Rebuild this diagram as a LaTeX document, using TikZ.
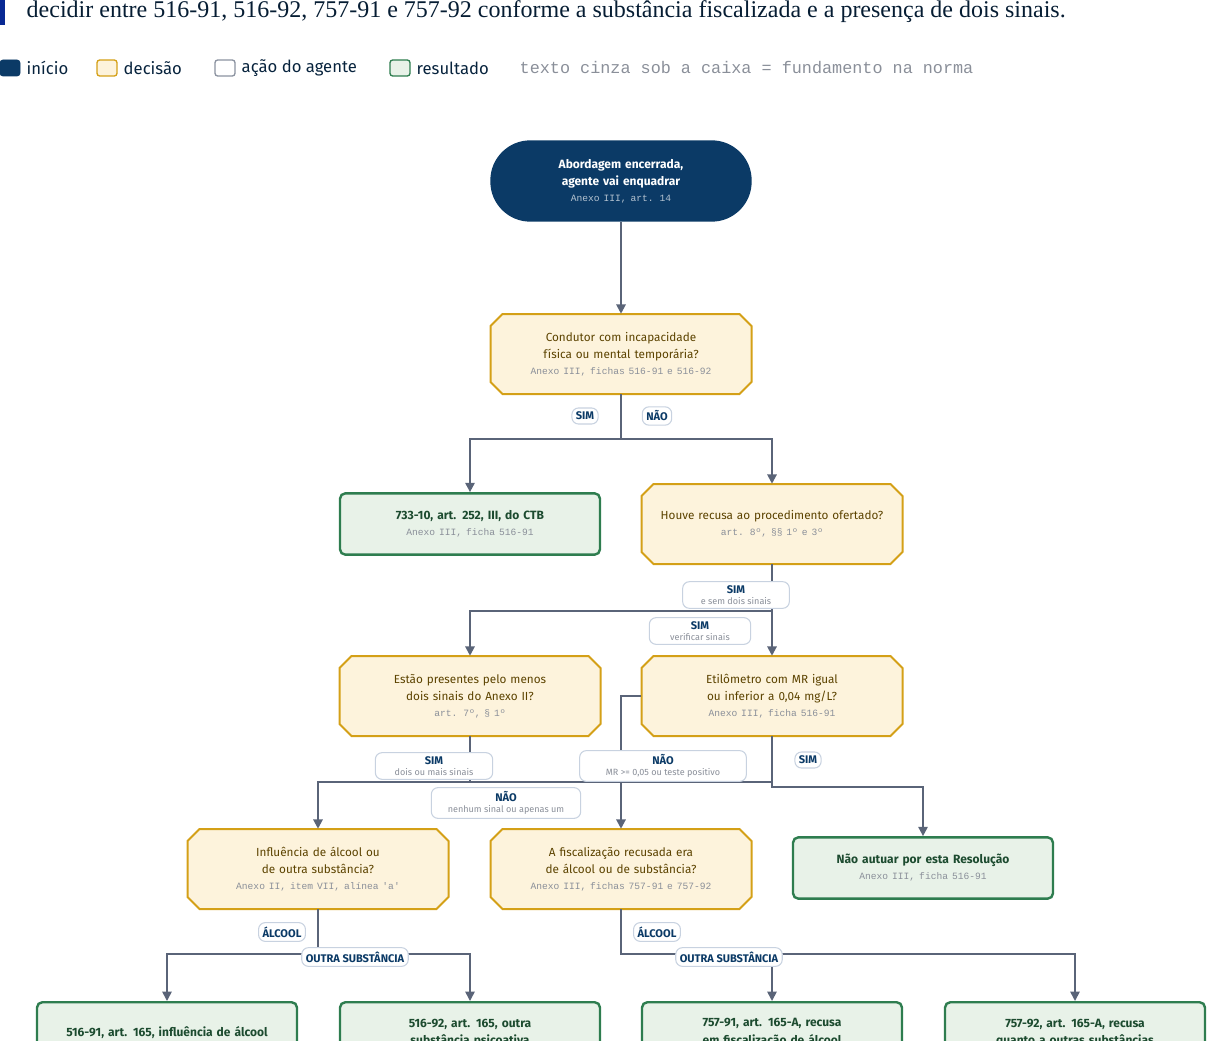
\documentclass[tikz,border=0pt]{standalone}
\usepackage{fontspec}
\setmainfont{Fira Sans}
\newfontfamily\monof{Liberation Mono}
\newfontfamily\serf{Liberation Serif}
\usetikzlibrary{arrows.meta}
\definecolor{navy}{HTML}{0B3A66}
\definecolor{decf}{HTML}{FDF3DC}
\definecolor{decd}{HTML}{D4A017}
\definecolor{resf}{HTML}{E8F2E8}
\definecolor{resd}{HTML}{2E7D4F}
\definecolor{edge}{HTML}{5A6478}
\definecolor{lbld}{HTML}{C8D2E0}
\definecolor{gtxt}{HTML}{8A8F99}
\definecolor{dtxt}{HTML}{5C4300}
\hyphenpenalty=10000
\exhyphenpenalty=10000
\begin{document}
\begin{tikzpicture}[x=0.75pt,y=-0.75pt,
 dec/.style={rectangle,minimum width=195.75pt,minimum height=60pt,align=center,text width=172pt,font=\fontsize{8.8}{13}\selectfont,text=dtxt,inner sep=0pt},
 octo/.style={draw=decd,fill=decf,line width=1.5pt},
 res/.style={rectangle,rounded corners=4pt,draw=resd,fill=resf,line width=1.8pt,minimum width=195pt,minimum height=46pt,align=center,text width=175pt,font=\fontsize{9}{13}\selectfont\bfseries,text=resd!60!black},
 lbl/.style={rectangle,rounded corners=5pt,draw=lbld,fill=white,line width=0.8pt,align=center,font=\fontsize{8.3}{9}\selectfont\bfseries,text=navy,inner xsep=3pt,inner ysep=3pt},
 e/.style={draw=edge,line width=1.5pt},
 a/.style={e,-{Triangle[length=7pt,width=7pt]}},
]
\useasboundingbox (0,0) rectangle (1216,1041);
\newcommand{\nrm}[1]{\\[-1pt]{\monof\fontsize{7.2}{10}\selectfont\color{gtxt}#1}}
\newcommand{\sbt}[1]{\\[-1pt]{\fontsize{6.8}{8}\selectfont\mdseries\color{gtxt}#1}}
\newcommand{\octbox}[2]{\path[octo] (#1-130.5,#2-40)++(12,0) -- (#1+118.5,#2-40) -- (#1+130.5,#2-28) -- (#1+130.5,#2+28) -- (#1+118.5,#2+40) -- (#1-118.5,#2+40) -- (#1-130.5,#2+28) -- (#1-130.5,#2-28) -- cycle;}
% title + legend
\fill[navy!70!blue] (0,0) rectangle (5,25);
\node[anchor=west,font=\serf\fontsize{18}{20}\selectfont,text=navy!50!black] (title) at (22,12) {decidir entre 516-91, 516-92, 757-91 e 757-92 conforme a substância fiscalizada e a presença de dois sinais.};
\draw[fill=navy,draw=navy,rounded corners=2pt] (0,60) rectangle (20,76);
\node[anchor=west,font=\fontsize{12.5}{14}\selectfont,text=navy!60!black] (l1) at (22,68) {início};
\draw[fill=decf,draw=decd,line width=1pt,rounded corners=2pt] (97,60) rectangle (117,76);
\node[anchor=west,font=\fontsize{12.5}{14}\selectfont,text=navy!60!black] (l2) at (119,68) {decisão};
\draw[fill=white,draw=edge!70,line width=1pt,rounded corners=2pt] (215,60) rectangle (235,76);
\node[anchor=west,font=\fontsize{12.5}{14}\selectfont,text=navy!60!black] (l3) at (237,68) {ação do agente};
\draw[fill=resf,draw=resd,line width=1pt,rounded corners=2pt] (390,60) rectangle (410,76);
\node[anchor=west,font=\fontsize{12.5}{14}\selectfont,text=navy!60!black] (l4) at (412,68) {resultado};
\node[anchor=west,font=\monof\fontsize{12.6}{14}\selectfont,text=gtxt] (l5) at (515,68) {texto cinza sob a caixa = fundamento na norma};
% nodes
\node[rectangle,rounded corners=30pt,fill=navy,minimum width=196pt,minimum height=61pt,align=center,text width=180pt,font=\fontsize{9}{13}\selectfont\bfseries,text=white] (s) at (621,181) {Abordagem encerrada, agente vai enquadrar\\[-1pt]{\monof\mdseries\fontsize{7.2}{10}\selectfont\color{white!70!navy}Anexo III, art. 14}};
\octbox{621}{354}
\node[dec] (d1) at (621,354) {Condutor com incapacidade física ou mental temporária?\nrm{Anexo III, fichas 516-91 e 516-92}};
\node[res] (r1) at (470,524) {733-10, art. 252, III, do CTB\nrm{\mdseries Anexo III, ficha 516-91}};
\octbox{772}{524}
\node[dec] (d2) at (772,524) {Houve recusa ao procedimento ofertado?\nrm{art. 8º, §§ 1º e 3º}};
\octbox{470}{696}
\node[dec] (d3) at (470,696) {Estão presentes pelo menos dois sinais do Anexo II?\nrm{art. 7º, § 1º}};
\octbox{772}{696}
\node[dec] (d4) at (772,696) {Etilômetro com MR igual ou inferior a 0,04 mg/L?\nrm{Anexo III, ficha 516-91}};
\octbox{318}{869}
\node[dec] (d5) at (318,869) {Influência de álcool ou de outra substância?\nrm{Anexo II, item VII, alínea 'a'}};
\octbox{621}{869}
\node[dec] (d6) at (621,869) {A fiscalização recusada era de álcool ou de substância?\nrm{Anexo III, fichas 757-91 e 757-92}};
\node[res] (r2) at (923,868) {Não autuar por esta Resolução\nrm{\mdseries Anexo III, ficha 516-91}};
\node[res,anchor=north,text width=160pt] (b1) at (167,1001) {516-91, art. 165, influência de álcool};
\node[res,anchor=north,text width=160pt] (b2) at (470,1001) {516-92, art. 165, outra substância psicoativa};
\node[res,anchor=north,text width=160pt] (b3) at (772,1001) {757-91, art. 165-A, recusa em fiscalização de álcool};
\node[res,anchor=north,text width=160pt] (b4) at (1075,1001) {757-92, art. 165-A, recusa quanto a outras substâncias};
% edges
\draw[a] (s) -- (d1);
\coordinate (j1) at (621,439);
\draw[a] (d1.south) -- (j1) -| (r1.north);
\draw[a] (j1) -| (d2.north);
\coordinate (j2) at (772,611);
\draw[a] (d2.south) -- (j2) -| (d3.north);
\draw[a] (j2) -- (d4.north);
\coordinate (j3) at (470,782);
\draw[a] (d3.south) -- (j3) -| (d5.north);
\coordinate (j4) at (772,782);
\draw[a] (d4.south) -- (j4) -| (d6.north);
\draw[e] (j3) -- (j4);
\coordinate (j5) at (621,696);
\draw[e] (d4.west) -- (j5) -- (621,782);
\coordinate (j6) at (772,787);
\draw[a] (j4) -- (j6) -| (r2.north);
\coordinate (j7) at (318,954);
\draw[a,line width=1.2pt] (d5.south) -- (j7) -| (b1.north);
\draw[a,line width=1.2pt] (j7) -| (b2.north);
\coordinate (j8) at (621,954);
\draw[a,line width=1.2pt] (d6.south) -- (j8) -| (b3.north);
\draw[a,line width=1.2pt] (j8) -| (b4.north);
% labels
\node[lbl] (t1) at (585,416) {SIM};
\node[lbl] (t2) at (657,416) {NÃO};
\node[lbl,minimum width=80pt] (t3) at (736,595) {SIM\sbt{e sem dois sinais}};
\node[lbl,minimum width=76pt] (t4) at (700,631) {SIM\sbt{verificar sinais}};
\node[lbl,minimum width=88pt] (t5) at (434,766) {SIM\sbt{dois ou mais sinais}};
\node[lbl,minimum width=125pt] (t6) at (663,766) {NÃO\sbt{MR >= 0,05 ou teste positivo}};
\node[lbl] (t7) at (808,760) {SIM};
\node[lbl,minimum width=112pt] (t8) at (506,803) {NÃO\sbt{nenhum sinal ou apenas um}};
\node[lbl] (t9) at (282,932) {ÁLCOOL};
\node[lbl] (t10) at (355,957) {OUTRA SUBSTÂNCIA};
\node[lbl] (t11) at (657,932) {ÁLCOOL};
\node[lbl] (t12) at (729,957) {OUTRA SUBSTÂNCIA};
\end{tikzpicture}
\end{document}
